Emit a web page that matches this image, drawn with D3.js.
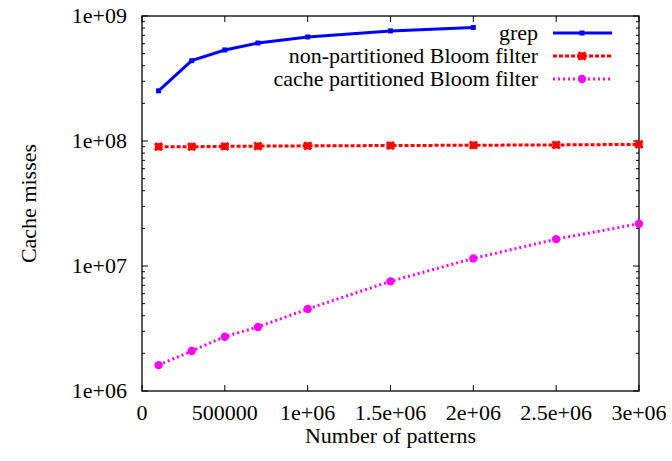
<!DOCTYPE html>
<html>
<head>
<meta charset="utf-8">
<script src="https://cdn.jsdelivr.net/npm/d3@7"></script>
<style>
  body { margin: 0; background: #fff; }
</style>
</head>
<body>
<svg id="chart" width="672" height="461"></svg>
<script>
// patterns count (x) per series
var grepX = [100000, 300000, 500000, 700000, 1000000, 1500000, 2000000];
var grepY = [2.52e8, 4.39e8, 5.35e8, 6.08e8, 6.8e8, 7.6e8, 8.1e8];

var bloomX = [100000, 300000, 500000, 700000, 1000000, 1500000, 2000000, 2500000, 3000000];
var bloomY = [9.0e7, 9.0e7, 9.05e7, 9.1e7, 9.15e7, 9.2e7, 9.25e7, 9.3e7, 9.4e7];

var partX = [100000, 300000, 500000, 700000, 1000000, 1500000, 2000000, 2500000, 3000000];
var partY = [1.61e6, 2.09e6, 2.72e6, 3.25e6, 4.53e6, 7.54e6, 1.15e7, 1.64e7, 2.18e7];

var xTicks = [0, 500000, 1000000, 1500000, 2000000, 2500000, 3000000];
var xTickLabels = ["0", "500000", "1e+06", "1.5e+06", "2e+06", "2.5e+06", "3e+06"];
var yTicks = [1e6, 1e7, 1e8, 1e9];
var yTickLabels = ["1e+06", "1e+07", "1e+08", "1e+09"];

var seriesNames = ["grep", "non-partitioned Bloom filter", "cache partitioned Bloom filter"];

var FONT = "'Liberation Serif'";
var FS = "22px";

var svg = d3.select("#chart"),
    margin = {top: 16, right: 33, bottom: 70, left: 142},
    width = svg.attr("width") - margin.left - margin.right,
    height = svg.attr("height") - margin.top - margin.bottom;

var g = svg.append("g").attr("transform", "translate(" + margin.left + "," + margin.top + ")");

var x = d3.scaleLinear().domain([0, 3000000]).range([0, width]),
    y = d3.scaleLog().domain([1e6, 1e9]).range([height, 0]);

// minor ticks for log axis
var minorTicks = [];
[1e6, 1e7, 1e8].forEach(function(p) {
  for (var k = 2; k <= 9; k++) minorTicks.push(p * k);
});

var tickG = g.append("g").attr("stroke", "#000").attr("stroke-width", 1);
yTicks.forEach(function(t) {
  tickG.append("line").attr("x1", 0).attr("x2", 6).attr("y1", y(t)).attr("y2", y(t));
  tickG.append("line").attr("x1", width).attr("x2", width - 6).attr("y1", y(t)).attr("y2", y(t));
});
minorTicks.forEach(function(t) {
  tickG.append("line").attr("x1", 0).attr("x2", 3).attr("y1", y(t)).attr("y2", y(t));
  tickG.append("line").attr("x1", width).attr("x2", width - 3).attr("y1", y(t)).attr("y2", y(t));
});
xTicks.forEach(function(t) {
  tickG.append("line").attr("x1", x(t)).attr("x2", x(t)).attr("y1", height).attr("y2", height - 6);
  tickG.append("line").attr("x1", x(t)).attr("x2", x(t)).attr("y1", 0).attr("y2", 6);
});

g.append("rect")
  .attr("width", width).attr("height", height)
  .attr("fill", "none").attr("stroke", "#000").attr("stroke-width", 1.3);

function txt(sel) {
  return sel.style("font-family", FONT).style("font-size", FS).attr("fill", "#000");
}

txt(g.selectAll(".ylab").data(yTicks).enter().append("text"))
  .attr("x", -15).attr("y", function(d) { return y(d); })
  .attr("dy", "0.33em").attr("text-anchor", "end")
  .text(function(d, i) { return yTickLabels[i]; });

txt(g.selectAll(".xlab").data(xTicks).enter().append("text"))
  .attr("x", function(d) { return x(d); }).attr("y", height + 29)
  .attr("text-anchor", "middle")
  .text(function(d, i) { return xTickLabels[i]; });

txt(svg.append("text"))
  .attr("transform", "translate(36," + (margin.top + height / 2) + ") rotate(-90)")
  .attr("text-anchor", "middle")
  .text("Cache misses");

txt(svg.append("text"))
  .attr("x", margin.left + width / 2).attr("y", 443)
  .attr("text-anchor", "middle")
  .text("Number of patterns");

var series = [
  {name: seriesNames[0], xs: grepX, ys: grepY, color: "#0000ff", dash: null, marker: "square"},
  {name: seriesNames[1], xs: bloomX, ys: bloomY, color: "#ff0000", dash: "4,2", marker: "cross"},
  {name: seriesNames[2], xs: partX, ys: partY, color: "#ff00ff", dash: "2,3", marker: "circle"}
];

var line = d3.line()
  .x(function(d) { return x(d[0]); })
  .y(function(d) { return y(d[1]); });

function drawMarker(sel, type, color) {
  if (type === "square") {
    sel.append("path").attr("d", d3.symbol().type(d3.symbolSquare).size(25)).attr("fill", color);
  } else if (type === "cross") {
    sel.append("path").attr("d", d3.symbol().type(d3.symbolX).size(35))
      .attr("stroke", color).attr("stroke-width", 3).attr("fill", "none");
    sel.append("path").attr("d", d3.symbol().type(d3.symbolCross).size(30)).attr("fill", color);
  } else {
    sel.append("circle").attr("r", 4.2).attr("fill", color);
  }
}

series.forEach(function(s) {
  var pts = s.xs.map(function(v, i) { return [v, s.ys[i]]; });
  g.append("path").datum(pts)
    .attr("d", line).attr("fill", "none")
    .attr("stroke", s.color).attr("stroke-width", 3)
    .attr("stroke-dasharray", s.dash);
  pts.forEach(function(p) {
    var m = g.append("g").attr("transform", "translate(" + x(p[0]) + "," + y(p[1]) + ")");
    drawMarker(m, s.marker, s.color);
  });
});

// legend
var legend = svg.append("g");
series.forEach(function(s, i) {
  var ly = 33 + i * 23;
  txt(legend.append("text")).attr("x", 538).attr("y", ly).attr("dy", "0.33em")
    .attr("text-anchor", "end").text(s.name);
  legend.append("line").attr("x1", 553).attr("x2", 612).attr("y1", ly).attr("y2", ly)
    .attr("stroke", s.color).attr("stroke-width", 3).attr("stroke-dasharray", s.dash);
  var m = legend.append("g").attr("transform", "translate(582," + ly + ")");
  drawMarker(m, s.marker, s.color);
});
</script>
</body>
</html>
